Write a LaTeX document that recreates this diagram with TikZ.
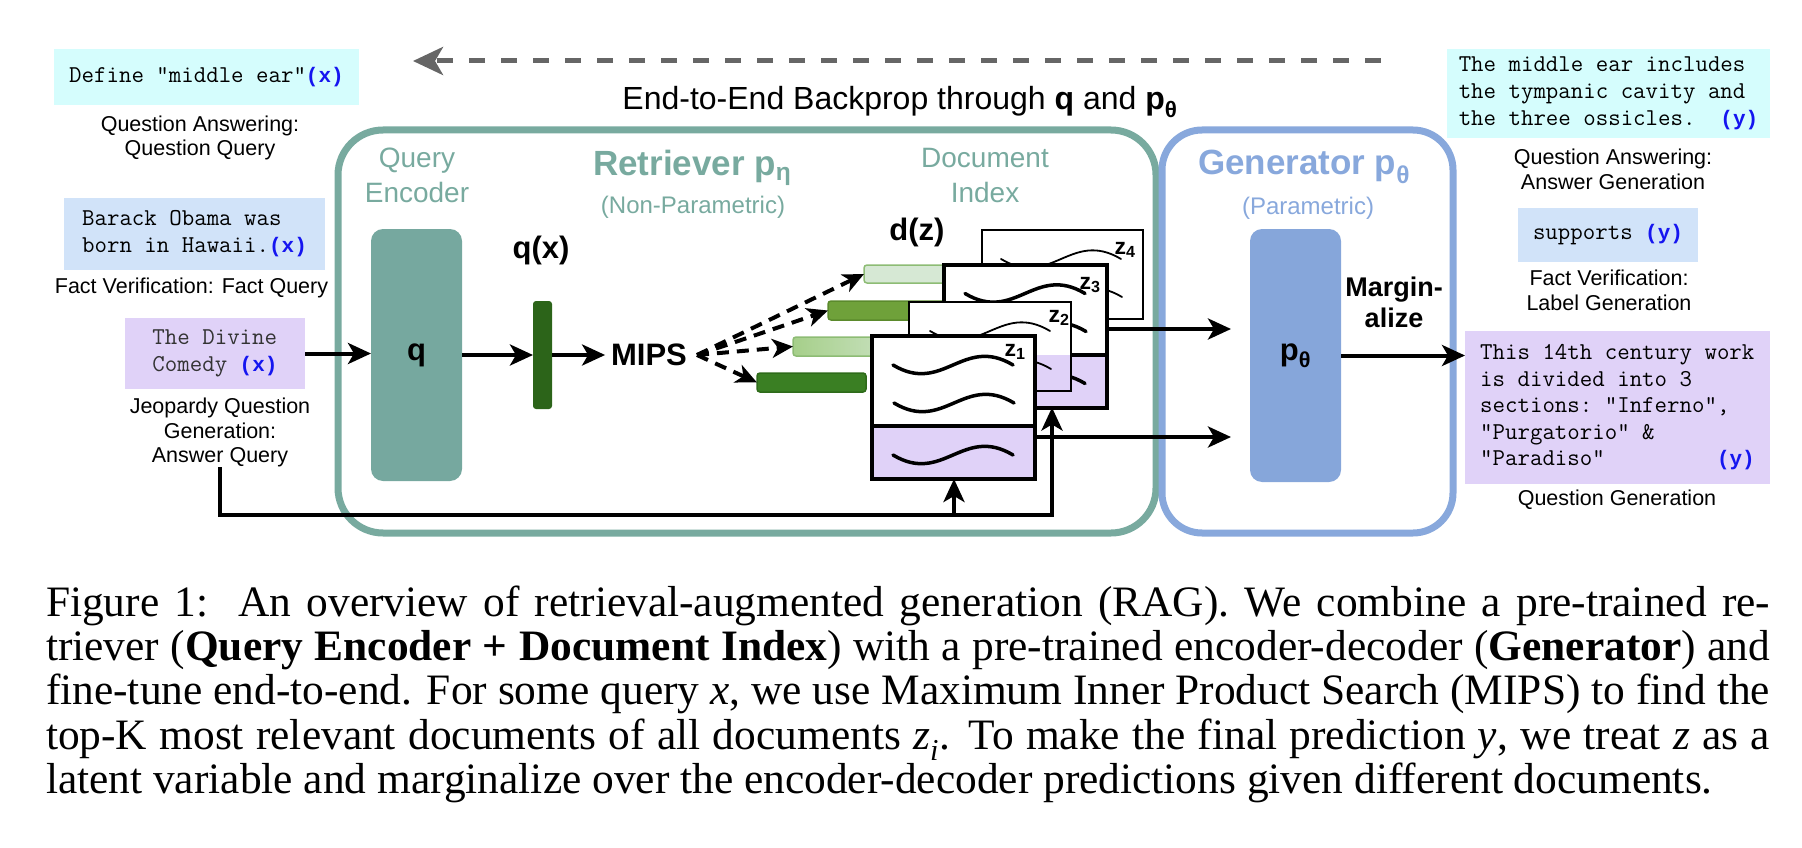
\documentclass[tikz,border=0pt]{standalone}
\usepackage{fontspec}
\setmainfont{Liberation Serif}
\setsansfont{Liberation Sans}
\setmonofont{Latin Modern Mono}
\newfontfamily\tagfont{Liberation Mono}
\usetikzlibrary{arrows.meta,calc}
\definecolor{tealc}{HTML}{78AA9F}
\definecolor{tealfill}{HTML}{76A89F}
\definecolor{genc}{HTML}{88A8DC}
\definecolor{genfill}{HTML}{86A6DA}
\definecolor{cyanbox}{HTML}{D5FDFD}
\definecolor{bluebox}{HTML}{D1E3F9}
\definecolor{purplebox}{HTML}{E0D2F8}
\definecolor{xblue}{HTML}{1515F0}
\definecolor{qxgreen}{HTML}{2C6419}
\definecolor{barA}{HTML}{D6E8D4}
\definecolor{barAb}{HTML}{8DBC74}
\definecolor{barB}{HTML}{6FA13A}
\definecolor{barBb}{HTML}{5B8A2C}
\definecolor{barCl}{HTML}{A6CF8A}
\definecolor{barCr}{HTML}{D3E7D0}
\definecolor{barD}{HTML}{3A7F23}
\definecolor{barDb}{HTML}{2E6B1A}
\definecolor{bpgray}{HTML}{666666}
\definecolor{monogray}{HTML}{333333}
\newcommand{\qxtag}{{\tagfont\fontsize{21}{27}\selectfont\bfseries\color{xblue}(x)}}
\newcommand{\qytag}{{\tagfont\fontsize{21}{27}\selectfont\bfseries\color{xblue}(y)}}
\begin{document}
\begin{tikzpicture}[x=1pt,y=-1pt,
  every node/.style={inner sep=0pt, outer sep=0pt},
  lab/.style={font=\sffamily\fontsize{21.5}{24.5}\selectfont, align=center},
  monobox/.style={font=\ttfamily\fontsize{24.2}{27}\selectfont, align=left},
  big/.style={font=\sffamily\bfseries\fontsize{31}{36}\selectfont},
  zlab/.style={font=\sffamily\bfseries\fontsize{23}{26}\selectfont},
  arr/.style={line width=4pt, -{Stealth[length=23pt,width=21pt,inset=6pt]}},
  dasharr/.style={line width=4pt, dash pattern=on 12pt off 8pt, -{Stealth[length=21pt,width=19pt,inset=6pt]}},
  thinwave/.pic={\draw[line width=1.8pt, line cap=round] (0,0) .. controls (50,30) and (70,-30) .. (120,0);},
  thickwave/.pic={\draw[line width=3.5pt, line cap=round] (0,0) .. controls (50,30) and (70,-30) .. (120,0);},
  thickdoc/.style={draw, line width=4pt, fill=white, minimum width=163pt, minimum height=143pt,
    path picture={\fill[purplebox] (path picture bounding box.south west) rectangle ([yshift=53pt]path picture bounding box.south east);
      \draw[line width=4pt] ([yshift=53pt]path picture bounding box.south west) -- ([yshift=53pt]path picture bounding box.south east);}},
  thinpdoc/.style={draw, line width=1.8pt, fill=white, minimum width=162pt, minimum height=89pt,
    path picture={\fill[purplebox] (path picture bounding box.south west) rectangle ([yshift=36pt]path picture bounding box.south east);}},
  thindoc/.style={draw, line width=1.8pt, fill=white, minimum width=161pt, minimum height=89pt},
]
\useasboundingbox (0,0) rectangle (1802,848);

% ---- backprop arrow and title
\coordinate (bpR) at (1381,61);
\coordinate (bpL) at (413,61);
\draw[bpgray, line width=5pt, dash pattern=on 16pt off 16pt, -{Stealth[length=30pt,width=28pt,inset=8pt]}] (bpR) -- (bpL);
\node[font=\sffamily\fontsize{32}{36}\selectfont] (bptext) at (900,102) {End-to-End Backprop through \textbf{q} and \textbf{p\textsubscript{θ}}};

% ---- containers
\node[draw=tealc, line width=7pt, rounded corners=45pt, minimum width=818pt, minimum height=403pt] (ret) at (747,331.5) {};
\node[draw=genc, line width=7pt, rounded corners=40pt, minimum width=291pt, minimum height=403pt] (gen) at (1307.5,331.5) {};

\node[font=\sffamily\fontsize{28}{35}\selectfont, text=tealc, align=center] (qenc) at (417,175.5) {Query\\Encoder};
\node[font=\sffamily\bfseries\fontsize{35}{40}\selectfont, text=tealc, anchor=base west] (rtitle) at (593,175.5) {Retriever p\textsubscript{η}};
\node[font=\sffamily\fontsize{24}{28}\selectfont, text=tealc] (nonpar) at (693,207) {(Non-Parametric)};
\node[font=\sffamily\fontsize{28}{35}\selectfont, text=tealc, align=center] (docidx) at (985,175.5) {Document\\Index};
\node[font=\sffamily\bfseries\fontsize{35}{40}\selectfont, text=genc, anchor=base west] (gtitle) at (1198,174.5) {Generator p\textsubscript{θ}};
\node[font=\sffamily\fontsize{24}{28}\selectfont, text=genc] (par) at (1308,208) {(Parametric)};

% ---- encoder, query vector, MIPS
\node[fill=tealfill, rounded corners=12pt, minimum width=91pt, minimum height=252pt, big] (qbox) at (416.5,355) {q};
\node[fill=qxgreen, rounded corners=3pt, minimum width=19pt, minimum height=108pt] (qx) at (542.5,355) {};
\node[big] (qxlab) at (541,250) {q(x)};
\node[big, inner xsep=6pt] (mips) at (649,355) {MIPS};
\node[big] (dz) at (917,232) {d(z)};

% ---- document vectors
\node[fill=barA, draw=barAb, line width=1.5pt, rounded corners=3pt, minimum width=130pt, minimum height=18pt, anchor=west] (bar1) at (864,274) {};
\node[fill=barB, draw=barBb, line width=1.5pt, rounded corners=3pt, minimum width=130pt, minimum height=19pt, anchor=west] (bar2) at (828,310.5) {};
\node[left color=barCl, right color=barCr, draw=barAb, line width=1.5pt, rounded corners=3pt, minimum width=130pt, minimum height=19pt, anchor=west] (bar3) at (793,346.5) {};
\node[fill=barD, draw=barDb, line width=1.5pt, rounded corners=3pt, minimum width=109pt, minimum height=19pt, anchor=west] (bar4) at (757,382.5) {};

% ---- documents
\node[thindoc] (z4) at (1062.5,274.5) {};
\pic at ([shift={(19,29)}]z4.north west) {thinwave};
\pic at ([shift={(20,67)}]z4.north west) {thinwave};
\node[zlab] (z4l) at (1125,250) {z\textsubscript{4}};

\node[thickdoc] (z3) at (1025.5,336) {};
\pic at ([shift={(21,29)}]z3.north west) {thickwave};
\pic at ([shift={(22,67)}]z3.north west) {thickwave};
\pic at ([shift={(21,119)}]z3.north west) {thickwave};
\node[zlab] (z3l) at (1090,285) {z\textsubscript{3}};

\node[thinpdoc] (z2) at (990,346.5) {};
\pic at ([shift={(21,29)}]z2.north west) {thinwave};
\pic at ([shift={(22,67)}]z2.north west) {thinwave};
\node[zlab] (z2l) at (1059,318) {z\textsubscript{2}};

\node[thickdoc] (z1) at (953.5,407.5) {};
\pic at ([shift={(21,29)}]z1.north west) {thickwave};
\pic at ([shift={(22,67)}]z1.north west) {thickwave};
\pic at ([shift={(21,119)}]z1.north west) {thickwave};
\node[zlab] (z1l) at (1015,352) {z\textsubscript{1}};

% ---- generator
\node[fill=genfill, rounded corners=12pt, minimum width=91pt, minimum height=253pt, big] (pbox) at (1295.5,355.5) {p\textsubscript{θ}};
\node[font=\sffamily\bfseries\fontsize{27}{31}\selectfont, align=center] (marg) at (1394,302.5) {Margin-\\alize};

% ---- left inputs
\node[monobox, fill=cyanbox, minimum width=305pt, minimum height=56pt] (defq) at (206.5,77) {Define "middle ear"\qxtag};
\node[lab] (qalab) at (200,138) {Question Answering:\\Question Query};
\node[monobox, fill=bluebox, minimum width=261pt, minimum height=72pt] (obama) at (194.5,234) {Barack Obama was\\born in Hawaii.\qxtag};
\node[lab] (fvlab) at (191.5,288) {Fact Verification: Fact Query};
\node[monobox, fill=purplebox, minimum width=180pt, minimum height=71pt, text=monogray] (divine) at (215,353.5) {The Divine\\Comedy \qxtag};
\node[lab] (jeop) at (220,432.5) {Jeopardy Question\\Generation:\\Answer Query};

% ---- right outputs
\node[monobox, fill=cyanbox, minimum width=323pt, minimum height=89pt] (ans) at (1608.5,93.5) {The middle ear includes\\the tympanic cavity and\\the three ossicles.\ \ \qytag};
\node[lab] (qalab2) at (1613,169.5) {Question Answering:\\Answer Generation};
\node[monobox, fill=bluebox, minimum width=180pt, minimum height=54pt] (sup) at (1608,235) {supports \qytag};
\node[lab] (fvlab2) at (1609,290.5) {Fact Verification:\\Label Generation};
\node[monobox, font=\ttfamily\fontsize{24.2}{26.5}\selectfont, fill=purplebox, minimum width=305pt, minimum height=153pt] (qgen) at (1617.5,407.5) {This 14th century work\\is divided into 3\\sections: "Inferno",\\"Purgatorio" \&\\"Paradiso"\ \ \ \ \ \ \ \ \ \qytag};
\node[lab] (qglab) at (1617,500) {Question Generation};

% ---- connectors
\draw[arr] (divine.east) -- (qbox.west |- divine.east);
\draw[arr] (qbox.east) -- (qx.west);
\draw[arr] (qx.east) -- (mips.west);
\coordinate (mipsout) at (697,355);
\draw[dasharr] (mipsout) -- (bar1.west);
\draw[dasharr] (mipsout) -- (bar2.west);
\draw[dasharr] (mipsout) -- (bar3.west);
\draw[dasharr] (mipsout) -- (bar4.west);

\coordinate (fbR) at (1052,515);
\coordinate (fbM) at (954,515);
\draw[arr] (jeop.south) |- (fbR) -- (fbR |- z3.south);
\draw[arr] (fbM) -- (fbM |- z1.south);

\coordinate (in1) at ([yshift=7pt]z3.east);
\coordinate (in2) at ([yshift=-29.5pt]z1.east);
\draw[arr] (in1) -- ($(in1 -| pbox.west)+(-19,0)$);
\draw[arr] (in2) -- ($(in2 -| pbox.west)+(-19,0)$);
\draw[arr] (pbox.east) -- (pbox.east -| qgen.west);

% ---- caption
\node[anchor=north west, text width=1724pt, align=justify, font=\rmfamily\fontsize{43.4}{44.2}\selectfont] (cap) at (46,586) {\lineskiplimit=-100pt\relax Figure 1:\hspace{0.15em} An overview of retrieval-augmented generation (RAG). We combine a pre-trained re-\linebreak triever (\textbf{Query Encoder + Document Index}) with a pre-trained encoder-decoder (\textbf{Generator}) and\linebreak fine-tune end-to-end. For some query \textit{x}, we use Maximum Inner Product Search (MIPS) to find the\linebreak top-K most relevant documents of all documents \textit{z\textsubscript{i}}. To make the final prediction \textit{y}, we treat \textit{z} as a\linebreak latent variable and marginalize over the encoder-decoder predictions given different documents.};
\end{tikzpicture}
\end{document}
